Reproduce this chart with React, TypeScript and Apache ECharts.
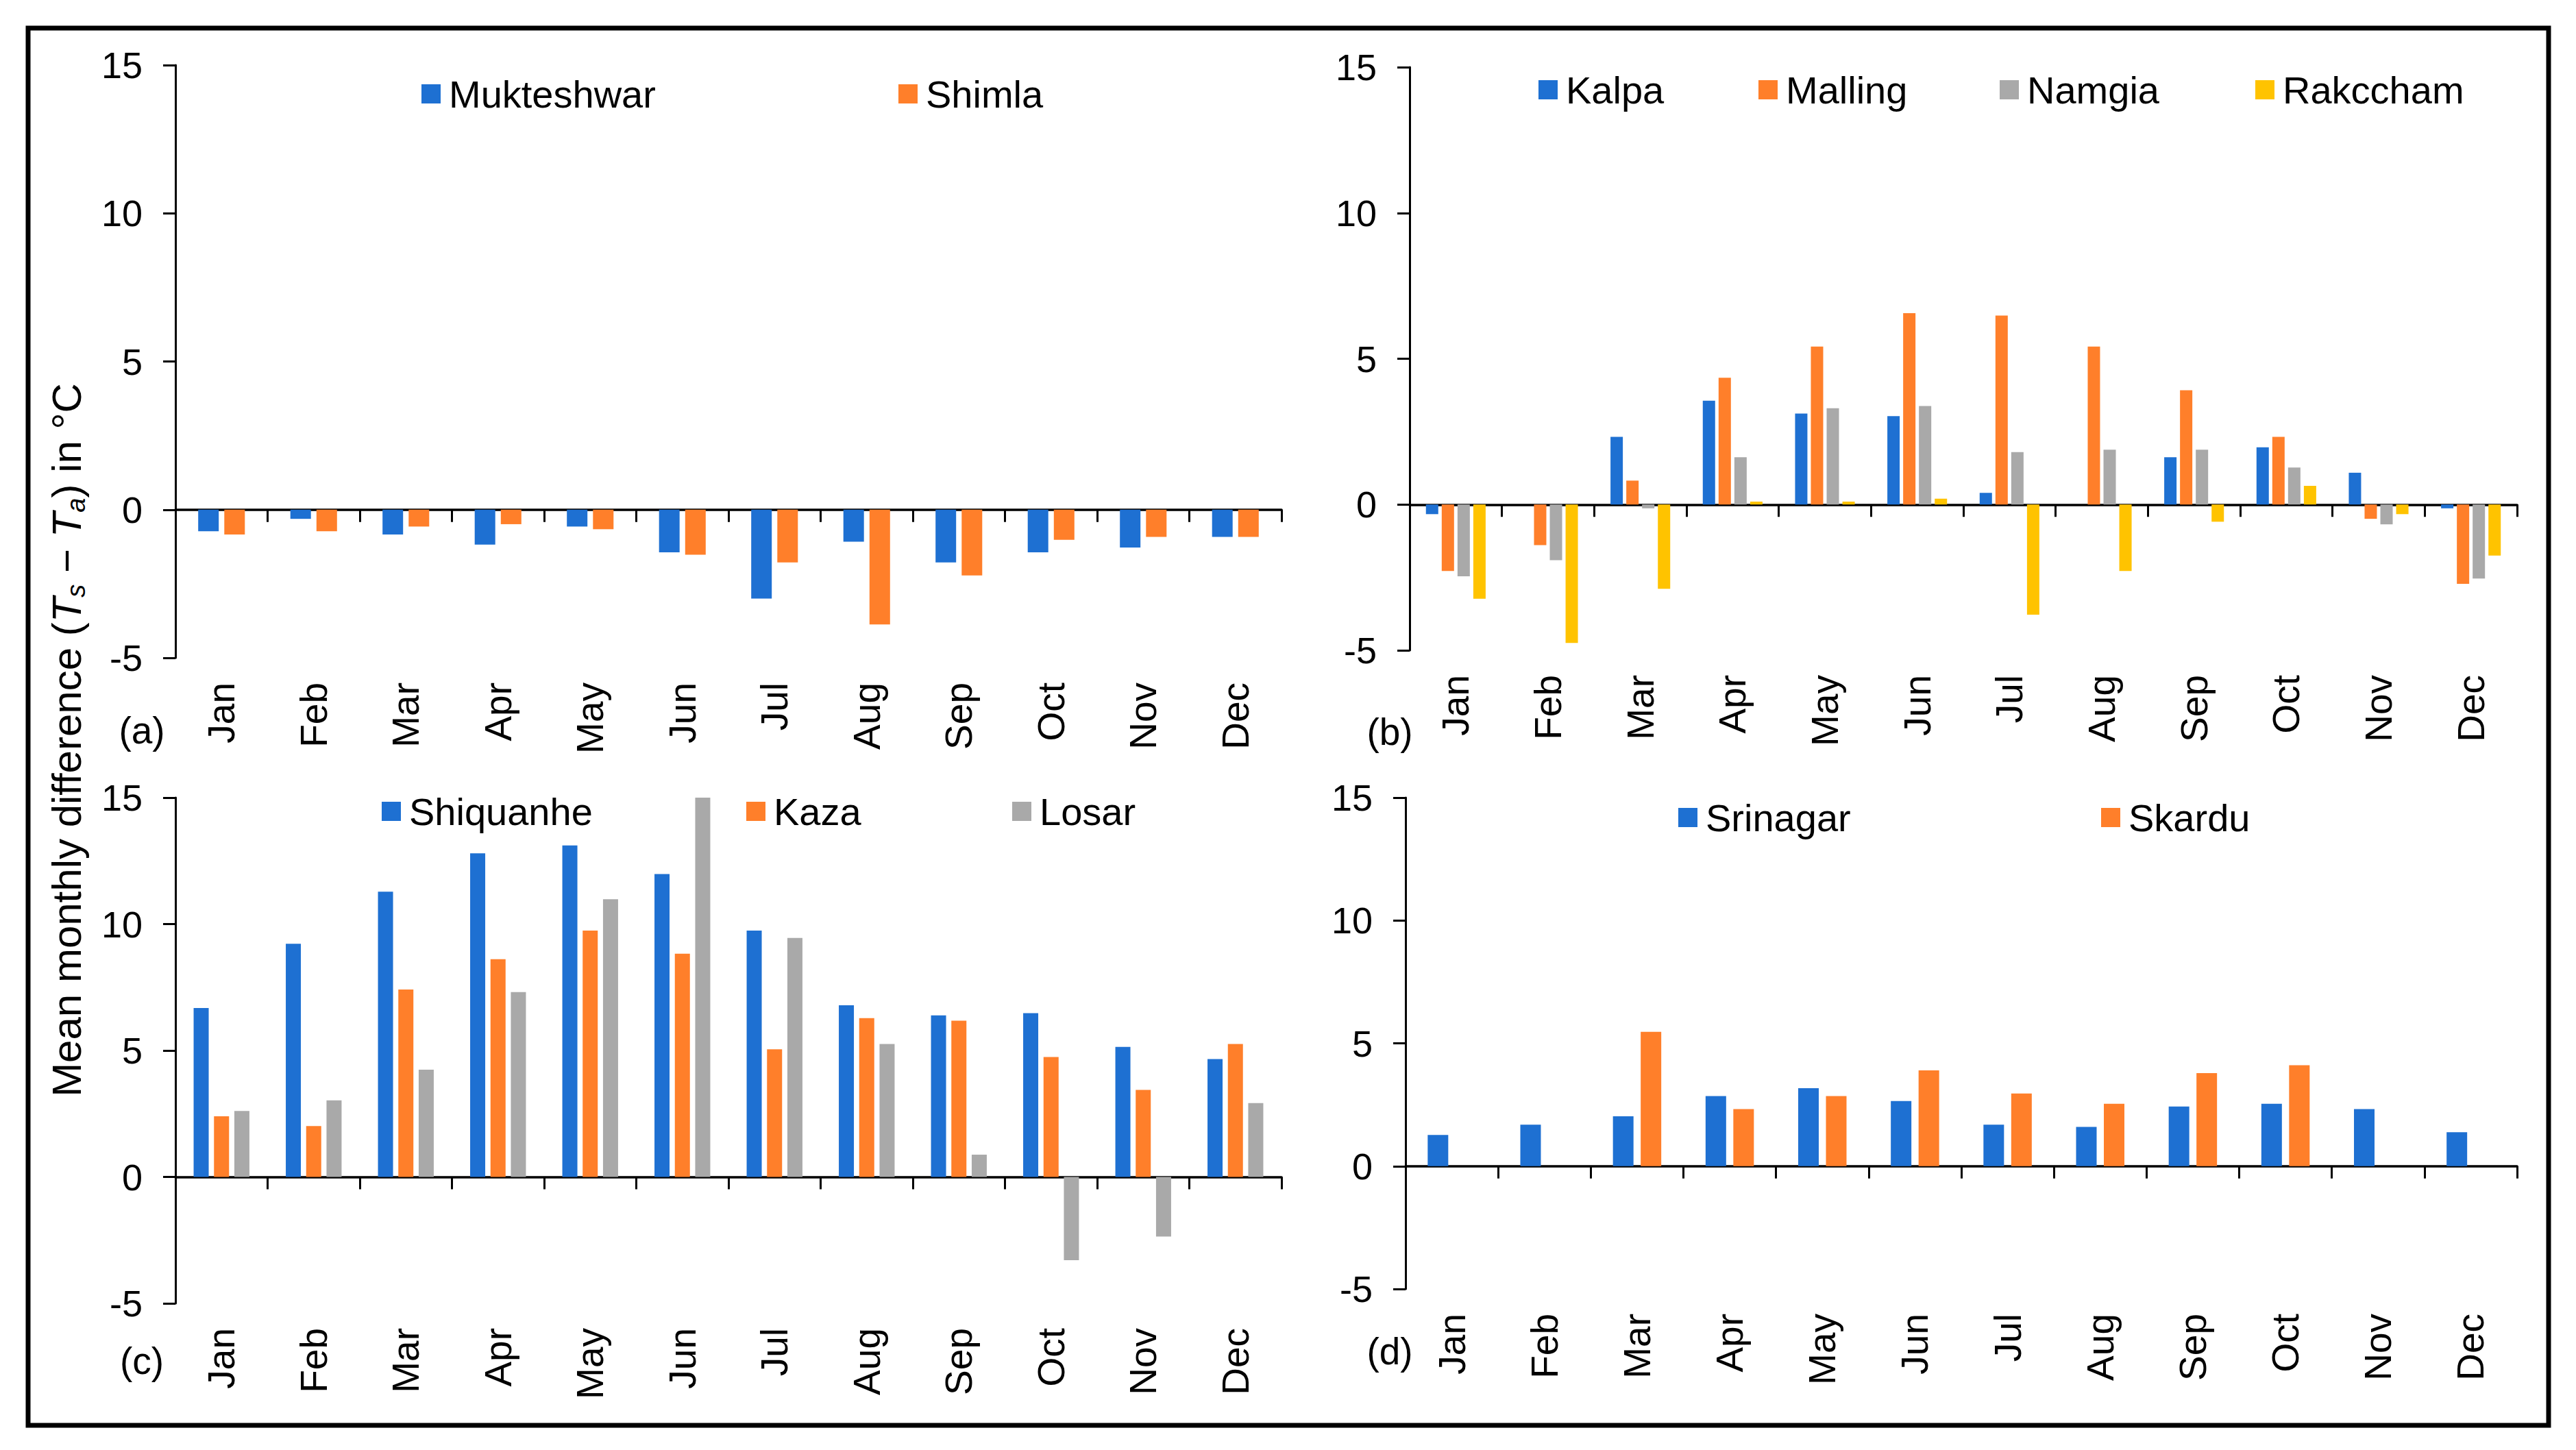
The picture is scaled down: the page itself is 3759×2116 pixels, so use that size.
import React, { useEffect, useRef } from 'react';
import * as echarts from 'echarts';

const months = ['Jan', 'Feb', 'Mar', 'Apr', 'May', 'Jun', 'Jul', 'Aug', 'Sep', 'Oct', 'Nov', 'Dec'];
const yTicks = [-5, 0, 5, 10, 15];

// (a)
const mukteshwar = [-0.73, -0.31, -0.84, -1.18, -0.57, -1.44, -3.0, -1.08, -1.78, -1.44, -1.28, -0.92];
const shimla = [-0.84, -0.73, -0.57, -0.49, -0.66, -1.52, -1.78, -3.87, -2.22, -1.02, -0.92, -0.92];
// (b)
const kalpa = [-0.33, 0, 2.32, 3.56, 3.12, 3.03, 0.4, 0, 1.62, 1.96, 1.09, -0.13];
const malling = [-2.28, -1.39, 0.82, 4.35, 5.42, 6.56, 6.48, 5.42, 3.92, 2.32, -0.49, -2.72];
const namgia = [-2.46, -1.91, -0.13, 1.62, 3.3, 3.38, 1.8, 1.88, 1.88, 1.27, -0.68, -2.54];
const rakccham = [-3.23, -4.75, -2.89, 0.1, 0.1, 0.2, -3.78, -2.28, -0.59, 0.64, -0.33, -1.75];
// (c)
const shiquanhe = [6.68, 9.22, 11.28, 12.8, 13.11, 11.98, 9.74, 6.79, 6.39, 6.48, 5.14, 4.66];
const kaza = [2.4, 2.01, 7.41, 8.61, 9.74, 8.83, 5.05, 6.28, 6.18, 4.74, 3.44, 5.26];
const losar = [2.61, 3.03, 4.24, 7.31, 10.98, 15, 9.45, 5.26, 0.88, -3.29, -2.36, 2.92];
// (d)
const srinagar = [1.27, 1.69, 2.03, 2.85, 3.17, 2.65, 1.69, 1.6, 2.43, 2.54, 2.32, 1.38];
const skardu = [null, null, 5.47, 2.32, 2.85, 3.9, 2.96, 2.54, 3.79, 4.11, null, null];

const BLUE = '#1E70D2';
const ORANGE = '#FF7F2A';
const GRAY = '#A9A9A9';
const YELLOW = '#FFC300';

const SANS = "'Liberation Sans', Arial, sans-serif";

export default function App() {
  const ref = useRef<HTMLDivElement>(null);
  useEffect(() => {
    const chart = echarts.init(ref.current!, null, { renderer: 'svg' });
    const panels = [
      {
        grid: { left: 256, top: 95, width: 1614, height: 865 },
        barWidth: 30, barGap: '27%',
        series: [
          { name: 'Mukteshwar', data: mukteshwar, color: BLUE, lx: 615, ly: 139 },
          { name: 'Shimla', data: shimla, color: ORANGE, lx: 1311, ly: 139 },
        ],
        label: { text: '(a)', x: 207, y: 1066 },
      },
      {
        grid: { left: 2057, top: 98, width: 1616, height: 851 },
        barWidth: 18, barGap: '28%',
        series: [
          { name: 'Kalpa', data: kalpa, color: BLUE, lx: 2245, ly: 133 },
          { name: 'Malling', data: malling, color: ORANGE, lx: 2566, ly: 133 },
          { name: 'Namgia', data: namgia, color: GRAY, lx: 2918, ly: 133 },
          { name: 'Rakccham', data: rakccham, color: YELLOW, lx: 3291, ly: 133 },
        ],
        label: { text: '(b)', x: 2028, y: 1068 },
      },
      {
        grid: { left: 256, top: 1164, width: 1614, height: 738 },
        barWidth: 22, barGap: '35%',
        series: [
          { name: 'Shiquanhe', data: shiquanhe, color: BLUE, lx: 557, ly: 1186 },
          { name: 'Kaza', data: kaza, color: ORANGE, lx: 1089, ly: 1186 },
          { name: 'Losar', data: losar, color: GRAY, lx: 1477, ly: 1186 },
        ],
        label: { text: '(c)', x: 207, y: 1986 },
      },
      {
        grid: { left: 2051, top: 1164, width: 1622, height: 717 },
        barWidth: 30, barGap: '35%',
        series: [
          { name: 'Srinagar', data: srinagar, color: BLUE, lx: 2449, ly: 1195 },
          { name: 'Skardu', data: skardu, color: ORANGE, lx: 3066, ly: 1195 },
        ],
        label: { text: '(d)', x: 2028, y: 1972 },
      },
    ];

    const grids: any[] = [];
    const xAxes: any[] = [];
    const yAxes: any[] = [];
    const series: any[] = [];
    const legends: any[] = [];
    const graphics: any[] = [];

    panels.forEach((p, i) => {
      grids.push({ ...p.grid, containLabel: false });
      xAxes.push({
        type: 'category', gridIndex: i, data: months, position: 'bottom',
        axisLine: { show: true, onZero: true, lineStyle: { color: '#000', width: 3.5 } },
        axisTick: { show: true, length: 18, lineStyle: { color: '#000', width: 3 } },
        axisLabel: { show: false },
        splitLine: { show: false },
      });
      xAxes.push({
        type: 'category', gridIndex: i, data: months, position: 'bottom',
        axisLine: { show: false, onZero: false },
        axisTick: { show: false },
        axisLabel: {
          show: true, interval: 0, rotate: 90, margin: 36,
          fontSize: 55, fontFamily: SANS, color: '#000',
        },
        splitLine: { show: false },
      });
      yAxes.push({
        type: 'value', gridIndex: i, min: yTicks[0], max: yTicks[yTicks.length - 1], interval: 5,
        axisLine: { show: true, lineStyle: { color: '#000', width: 3 } },
        axisTick: { show: true, length: 18, lineStyle: { color: '#000', width: 3 } },
        axisLabel: { show: true, margin: 48, fontSize: 54, fontFamily: SANS, color: '#000' },
        splitLine: { show: false },
      });
      p.series.forEach((s) => {
        series.push({
          type: 'bar', name: s.name, data: s.data, xAxisIndex: i * 2, yAxisIndex: i,
          barWidth: p.barWidth, barGap: p.barGap,
          itemStyle: { color: s.color },
          clip: true,
        });
        legends.push({
          data: [s.name], left: s.lx, top: s.ly - 30, padding: 0,
          icon: 'rect', itemWidth: 28, itemHeight: 28, selectedMode: false,
          textStyle: { fontSize: 56, fontFamily: SANS, color: '#000', padding: [0, 0, 0, 7] },
        });
      });
      graphics.push({
        type: 'text', x: p.label.x, y: p.label.y,
        style: { text: p.label.text, fontSize: 55, fontFamily: SANS, fill: '#000', textAlign: 'center', textVerticalAlign: 'middle' },
      });
    });

    graphics.push({
      type: 'rect', shape: { x: 41, y: 41, width: 3678, height: 2039 },
      style: { fill: 'none', stroke: '#000', lineWidth: 7 }, silent: true,
    });
    graphics.push({
      type: 'text', x: 97, y: 1080, rotation: Math.PI / 2,
      style: {
        text: '{b|Mean monthly difference (}{i|T}{s|s}{b| − }{i|T}{s|a}{b|) in °C}',
        textAlign: 'center', textVerticalAlign: 'middle', fill: '#000',
        rich: {
          b: { fontSize: 60, fontFamily: SANS, lineHeight: 66, fill: '#000' },
          i: { fontSize: 60, fontStyle: 'italic', fontFamily: SANS, lineHeight: 66, fill: '#000' },
          s: { fontSize: 38, fontStyle: 'italic', fontFamily: SANS, lineHeight: 34, verticalAlign: 'bottom', fill: '#000' },
        },
      },
    });

    chart.setOption({
      animation: false,
      backgroundColor: '#fff',
      grid: grids,
      xAxis: xAxes,
      yAxis: yAxes,
      legend: legends,
      series,
      graphic: graphics,
    });
    return () => chart.dispose();
  }, []);
  return <div ref={ref} style={{ position: 'fixed', left: 0, top: 0, width: 3759, height: 2116, background: '#fff' }} />;
}
